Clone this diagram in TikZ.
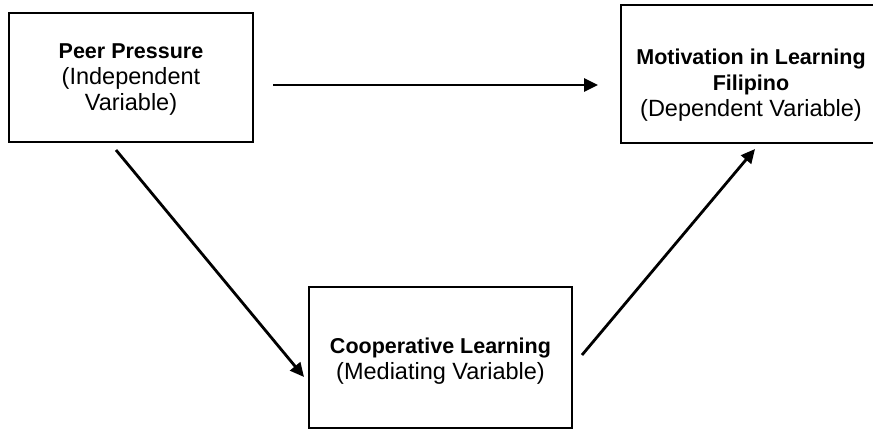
\documentclass[tikz,border=0pt]{standalone}
\usepackage{fontspec}
\setmainfont{Liberation Sans}
\usetikzlibrary{arrows.meta}
\newcommand{\bt}[1]{{\bfseries\fontsize{21.5}{26}\selectfont #1}}
\begin{document}
\begin{tikzpicture}[x=1pt,y=-1pt,
  box/.style={draw=black,line width=1.6pt,rectangle,inner sep=0pt},
  lbl/.style={align=center,font=\fontsize{23.5}{26}\selectfont,inner sep=0pt},
  conn/.style={line width=2.8pt,-{Triangle[length=14pt,width=13pt]}}]
\useasboundingbox (0,0) rectangle (873,429);
\clip (0,0) rectangle (873,429);
% boxes
\node[box,minimum width=244pt,minimum height=129pt] (pp) at (131,77.5) {};
\node[box,minimum width=300pt,minimum height=138pt] (mo) at (771,74) {};
\node[box,minimum width=263pt,minimum height=141pt] (cl) at (440.5,357.5) {};
% labels
\node[lbl] (ppt) at (131,80) {\bt{Peer Pressure}\\(Independent\\Variable)};
\node[lbl] (mot) at (751,85) {\bt{Motivation in Learning}\\\bt{Filipino}\\(Dependent Variable)};
\node[lbl] (clt) at (440.5,361) {\bt{Cooperative Learning}\\(Mediating Variable)};
% connector ends
\coordinate (h1) at (273,85);
\coordinate (h2) at (598,85);
\coordinate (d1) at (116,150);
\coordinate (d2) at (304,377);
\coordinate (e1) at (582,355);
\coordinate (e2) at (755,149);
\draw[conn] (h1) -- (h2);
\draw[conn] (d1) -- (d2);
\draw[conn] (e1) -- (e2);
\end{tikzpicture}
\end{document}
